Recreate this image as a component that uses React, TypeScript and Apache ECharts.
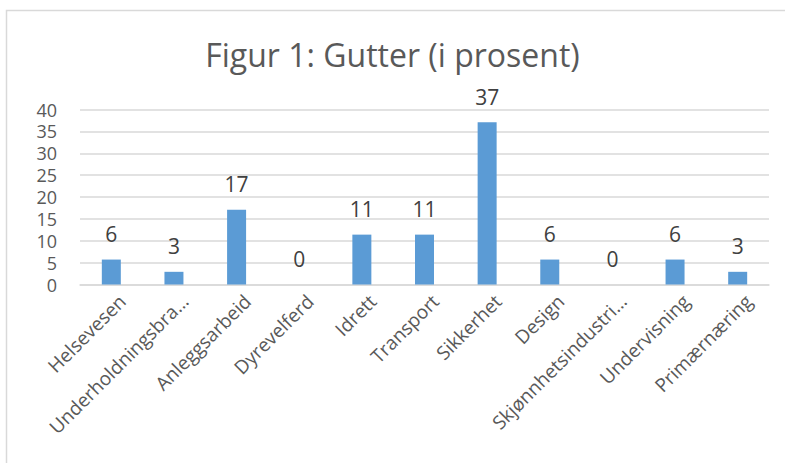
import React, { useEffect, useRef } from "react";
import * as echarts from "echarts";

const categories = [
  "Helsevesen",
  "Underholdningsbra…",
  "Anleggsarbeid",
  "Dyrevelferd",
  "Idrett",
  "Transport",
  "Sikkerhet",
  "Design",
  "Skjønnhetsindustri…",
  "Undervisning",
  "Primærnæring",
];
const values = [5.7, 2.9, 17.1, 0, 11.4, 11.4, 37.1, 5.7, 0, 5.7, 2.9];
const valueLabels = ["6", "3", "17", "0", "11", "11", "37", "6", "0", "6", "3"];
const yMin = 0;
const yMax = 40;
const yInterval = 5;
const titleText = "Figur 1: Gutter (i prosent)";

const FONT = "'Open Sans', Lato, sans-serif";

export default function App() {
  const ref = useRef<HTMLDivElement>(null);
  useEffect(() => {
    if (!ref.current) return;
    const chart = echarts.init(ref.current, undefined, { renderer: "svg" });
    chart.setOption({
      animation: false,
      backgroundColor: "#ffffff",
      title: {
        text: titleText,
        left: "center",
        top: 33,
        textStyle: {
          fontFamily: FONT,
          fontSize: 32,
          fontWeight: "normal",
          color: "#595959",
        },
      },
      grid: {
        left: 80,
        right: 16,
        top: 109.5,
        bottom: 178.5,
        containLabel: false,
      },
      xAxis: {
        type: "category",
        data: categories,
        axisLine: { lineStyle: { color: "#d9d9d9", width: 1.5 } },
        axisTick: { show: false },
        axisLabel: {
          rotate: 45,
          interval: 0,
          margin: 11,
          verticalAlign: "top",
          padding: [0, -6, 0, 0],
          fontFamily: FONT,
          fontSize: 19,
          color: "#595959",
        },
      },
      yAxis: {
        type: "value",
        min: yMin,
        max: yMax,
        interval: yInterval,
        axisLine: { show: false },
        axisTick: { show: false },
        splitLine: { lineStyle: { color: "#d9d9d9", width: 1.5 } },
        axisLabel: {
          margin: 23,
          fontFamily: FONT,
          fontSize: 18,
          color: "#595959",
        },
      },
      series: [
        {
          type: "bar",
          data: values,
          barWidth: 19,
          itemStyle: { color: "#5b9bd5" },
          label: {
            show: true,
            position: "top",
            distance: 15,
            fontFamily: FONT,
            fontSize: 21,
            color: "#404040",
            formatter: (p: any) => valueLabels[p.dataIndex],
          },
        },
      ],
      graphic: [
        {
          type: "rect",
          shape: { x: 6.5, y: 10.5, width: 900, height: 600 },
          style: { fill: "none", stroke: "#d9d9d9", lineWidth: 1.5 },
          silent: true,
        },
      ],
    });
    return () => chart.dispose();
  }, []);
  return (
    <div
      ref={ref}
      style={{ position: "fixed", left: 0, top: 0, width: 785, height: 463 }}
    />
  );
}
